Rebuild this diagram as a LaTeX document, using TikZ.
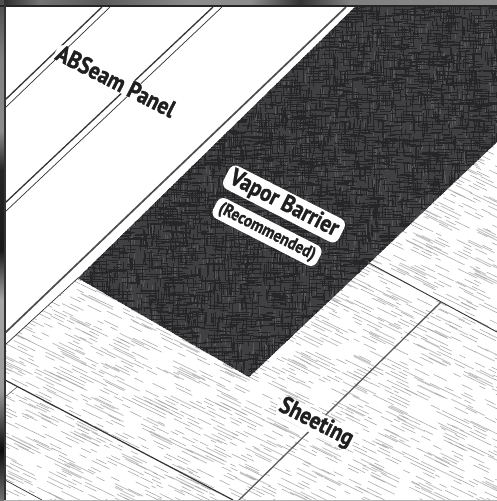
\documentclass[tikz,border=0pt]{standalone}
\usepackage{fontspec}
\setmainfont{PT Sans}
\newfontfamily\labelfont{PT Sans Bold}[FakeStretch=.88, FakeBold=1.3]
\usetikzlibrary{positioning}
\definecolor{barrierbase}{HTML}{404042}
\definecolor{barrierdark}{HTML}{262628}
\definecolor{barrierlight}{HTML}{565658}
\definecolor{hatchgray}{HTML}{A0A0A0}
\definecolor{clumpgray}{HTML}{C4C4C4}
\definecolor{seamdark}{HTML}{333335}
\tikzset{
  seamthick/.style={seamdark, line width=1.3pt},
  seamthin/.style={seamdark, line width=.7pt},
  tag/.style={fill=white, rounded corners=7pt, inner xsep=2pt, inner ysep=0pt, rotate=-27, text=black!88},
}
\begin{document}
\begin{tikzpicture}[x=1pt, y=-1pt, font=\labelfont]
    \useasboundingbox (0,0) rectangle (497,501);
    \fill[white] (0,0) rectangle (497,501);
    \coordinate (barrierA) at (355,7);
    \coordinate (barrierB) at (497,7);
    \coordinate (barrierC) at (497,142);
    \coordinate (barrierD) at (249,377);
    \coordinate (barrierE) at (78,278);
    \coordinate (edgeA) at (5,333);
    \coordinate (edgeB) at (346,7);
    \coordinate (edgeC) at (5,345);
    \coordinate (cornerL) at (5,501);
    \coordinate (cornerR) at (497,501);
    % sheeting
    \begin{scope}
      \clip (edgeC) -- (barrierE) -- (barrierD) -- (barrierC) -- (cornerR) -- (cornerL) -- cycle;
      \begin{scope}[rotate=-26]
        \pgfmathsetseed{41}
        \foreach \cu in {140,195,...,680} {
          \foreach \cv in {-100,-68,...,460} {
            \fill[clumpgray]
              foreach \r in {0,1,2,3,4} {(\cu+22*rnd,\cv+\r*2.2+16*rnd-8) rectangle ++(14+16*rnd,.9)};
          }
        }
        \foreach \v in {-100,-96.8,...,460} {
          \draw[hatchgray, line width=.5pt]
            foreach \k in {1,...,21} {(140+540*rnd,\v) -- ++(5+13*rnd,0)};
        }
      \end{scope}
    \end{scope}
    % vapor barrier
    \fill[barrierbase] (barrierA) -- (barrierB) -- (barrierC) -- (barrierD) -- (barrierE) -- cycle;
    \begin{scope}
      \clip (barrierA) -- (barrierB) -- (barrierC) -- (barrierD) -- (barrierE) -- cycle;
      \pgfmathsetseed{7}
      \draw[barrierlight, line width=.8pt]
        foreach \k in {1,...,2200} {(70+430*rnd,5+375*rnd) -- ++(0,3+7*rnd)};
      \draw[barrierdark, line width=.5pt]
        foreach \k in {1,...,5200} {(60+440*rnd,5+375*rnd) -- ++(5+13*rnd,0)};
      \draw[barrierdark, line width=.5pt]
        foreach \k in {1,...,4200} {(70+430*rnd,-5+385*rnd) -- ++(0,4+10*rnd)};
    \end{scope}
    % panel seams
    \coordinate (seamAa) at (5,100);
    \coordinate (seamAb) at (102,7);
    \coordinate (seamAc) at (5,108);
    \coordinate (seamAd) at (110,7);
    \coordinate (seamBa) at (5,203);
    \coordinate (seamBb) at (213,7);
    \coordinate (seamBc) at (5,212);
    \coordinate (seamBd) at (222,7);
    \draw[seamthick] (seamAa) -- (seamAb);
    \draw[seamthin] (seamAc) -- (seamAd);
    \draw[seamthick] (seamBa) -- (seamBb);
    \draw[seamthin] (seamBc) -- (seamBd);
    \draw[black!70, line width=1.7pt] (edgeA) -- (edgeB);
    \draw[seamthin] (edgeC) -- (barrierE);
    % sheeting seams
    \coordinate (lapAa) at (5,380);
    \coordinate (lapAb) at (233,500);
    \coordinate (lapBa) at (5,480);
    \coordinate (lapBb) at (42,500);
    \coordinate (lapCa) at (5,397);
    \coordinate (lapCb) at (17,387);
    \coordinate (lapDa) at (369,263);
    \coordinate (lapDb) at (497,332);
    \coordinate (lapEa) at (441,302);
    \coordinate (lapEb) at (238,501);
    \draw[seamdark, line width=1.2pt] (lapAa) -- (lapAb);
    \draw[seamthin] (lapBa) -- (lapBb);
    \draw[black!60, line width=.6pt] (lapCa) -- (lapCb);
    \draw[seamdark, line width=.9pt] (lapDa) -- (lapDb);
    \draw[black!65, line width=1.3pt] (lapEa) -- (lapEb);
    % labels
    \node[tag] (panel) at (116,81) {\fontsize{24}{25}\selectfont ABSeam Panel};
    \node[tag] (sheeting) at (316,423) {\fontsize{24}{25}\selectfont Sheeting};
    \node[tag, inner xsep=5pt, inner ysep=3pt] (recommended) at (267,232) {\fontsize{17.5}{18}\selectfont(Recommended)};
    \node[tag, inner xsep=5pt, inner ysep=2pt] (vapor) at (284,204) {\fontsize{24}{25}\selectfont Vapor Barrier};
    % frame
    \foreach \xa/\xb/\ca/\cb in {0/40/black!85/black!55, 40/100/black!55/black!65, 100/190/black!65/black!45, 190/250/black!45/black!45, 250/300/black!45/black!80, 300/350/black!80/black!50, 350/497/black!50/black!45} {
      \shade[left color=\ca, right color=\cb] (\xa,0) rectangle (\xb,5);
    }
    \foreach \ya/\yb/\ca/\cb in {0/60/black!70/black!50, 60/130/black!50/black!45, 130/170/black!45/black!85, 170/250/black!85/black!90, 250/300/black!90/black!35, 300/390/black!35/black!40, 390/450/black!40/black!95, 450/501/black!95/black!55} {
      \shade[top color=\ca, bottom color=\cb] (0,\ya) rectangle (4,\yb);
    }
    \fill[black!85] (0,5) rectangle (497,7);
    \fill[black!80] (4,5) rectangle (6,501);
    \fill[black!30] (4,499.5) rectangle (497,501);
\end{tikzpicture}
\end{document}
